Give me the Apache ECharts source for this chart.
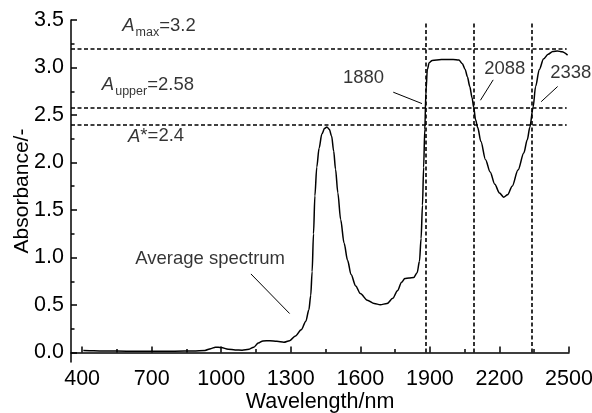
<!DOCTYPE html>
<html>
<head>
<meta charset="utf-8">
<script src="https://cdn.jsdelivr.net/npm/echarts@6/dist/echarts.min.js"></script>
<style>
  html, body { margin: 0; padding: 0; background: #fff; }
  #chart { width: 592px; height: 413px; }
</style>
</head>
<body>
<div id="chart"></div>
<script>
// Average NIR spectrum (wavelength in nm, absorbance)
const wavelength = [
  405, 450, 500, 600, 700, 800, 880, 930, 955, 975, 1000, 1030, 1060, 1090, 1120,
  1140, 1160, 1180, 1210, 1240, 1270, 1295, 1320, 1345, 1365, 1378, 1386, 1392, 1398,
  1404, 1412, 1422, 1434, 1446, 1456, 1466, 1476, 1485, 1493, 1503, 1515, 1530, 1545,
  1560, 1580, 1600, 1630, 1660, 1686, 1715, 1740, 1760, 1778, 1792, 1810, 1830, 1845,
  1855, 1862, 1868, 1873, 1878, 1883, 1889, 1897, 1910, 1950, 2000, 2025, 2040, 2052,
  2062, 2072, 2082, 2089, 2097, 2106, 2120, 2140, 2160, 2180, 2200, 2218, 2235, 2255,
  2280, 2305, 2320, 2331, 2345, 2356, 2372, 2390, 2410, 2430, 2450, 2470, 2494
];
const absorbance = [
  0.020, 0.018, 0.016, 0.013, 0.013, 0.014, 0.016, 0.022, 0.040, 0.056, 0.052, 0.035, 0.026, 0.025, 0.035,
  0.055, 0.100, 0.122, 0.125, 0.118, 0.108, 0.125, 0.175, 0.240, 0.330, 0.450, 0.600, 0.850, 1.250,
  1.650, 1.950, 2.150, 2.300, 2.360, 2.375, 2.350, 2.280, 2.120, 1.930, 1.680, 1.400, 1.150, 0.970,
  0.820, 0.700, 0.620, 0.550, 0.515, 0.503, 0.515, 0.570, 0.650, 0.740, 0.780, 0.785, 0.790, 0.840,
  0.960, 1.200, 1.550, 1.950, 2.350, 2.750, 2.980, 3.050, 3.075, 3.085, 3.085, 3.078, 3.040, 2.980,
  2.900, 2.800, 2.680, 2.580, 2.450, 2.370, 2.220, 2.030, 1.900, 1.770, 1.680, 1.635, 1.660, 1.750,
  1.920, 2.100, 2.240, 2.370, 2.580, 2.800, 2.980, 3.090, 3.140, 3.168, 3.175, 3.165, 3.130
];

// Threshold absorbances: A_max, A_upper, A*
const thresholds = [3.2, 2.58, 2.4];
// Wavelengths where the spectrum crosses A_upper
const crossings = [1880, 2088, 2338];

// Axis tick values
const xMajorTicks = [400, 700, 1000, 1300, 1600, 1900, 2200, 2500];
const xMinorTicks = [550, 850, 1150, 1450, 1750, 2050, 2350];
const yMajorTicks = [0, 0.5, 1.0, 1.5, 2.0, 2.5, 3.0, 3.5];
const yMinorTicks = [0.25, 0.75, 1.25, 1.75, 2.25, 2.75, 3.25];

const X_MIN = 352, X_MAX = 2500, Y_MIN = -0.1, Y_MAX = 3.5;
const FONT = '"Liberation Sans", Arial, sans-serif';
const BLACK = '#000';

const chart = echarts.init(document.getElementById('chart'), null, { renderer: 'canvas' });

const axisLineStyle = { lineStyle: { color: BLACK, width: 1.5 } };

const textRich = {
  i: { fontStyle: 'italic', fontSize: 18.5, fontFamily: FONT, color: BLACK },
  sub: { fontSize: 12.5, fontFamily: FONT, color: BLACK, padding: [12, 0, 0, 1] },
  n: { fontSize: 18.5, fontFamily: FONT, color: BLACK }
};

const option = {
  animation: false,
  backgroundColor: '#fff',
  grid: { left: 71, right: 23, top: 20, bottom: 51, outerBoundsMode: 'none', containLabel: false },
  xAxis: [
    {
      type: 'value', min: X_MIN, max: X_MAX,
      name: 'Wavelength/nm', nameLocation: 'middle', nameGap: 29, nameMoveOverlap: false,
      nameTextStyle: { fontSize: 21.5, fontFamily: FONT, color: BLACK },
      axisLine: axisLineStyle,
      axisTick: { inside: true, length: 6, customValues: xMajorTicks, lineStyle: { color: BLACK, width: 1.5 } },
      axisLabel: { customValues: xMajorTicks, margin: 6, fontSize: 21.5, fontFamily: FONT, color: BLACK,
                   formatter: v => String(v) },
      splitLine: { show: false }
    },
    {
      type: 'value', min: X_MIN, max: X_MAX, position: 'bottom',
      axisLine: { show: false },
      axisTick: { inside: true, length: 3.5, customValues: xMinorTicks, lineStyle: { color: BLACK, width: 1.5 } },
      axisLabel: { show: false },
      splitLine: { show: false }
    }
  ],
  yAxis: [
    {
      type: 'value', min: Y_MIN, max: Y_MAX,
      name: 'Absorbance/-', nameLocation: 'middle', nameGap: 38, nameMoveOverlap: false,
      nameTextStyle: { fontSize: 21, fontFamily: FONT, color: BLACK },
      axisLine: axisLineStyle,
      axisTick: { inside: true, length: 6, customValues: yMajorTicks, lineStyle: { color: BLACK, width: 1.5 } },
      axisLabel: { customValues: yMajorTicks, margin: 7, fontSize: 21.5, fontFamily: FONT, color: BLACK,
                   formatter: v => v.toFixed(1) },
      splitLine: { show: false }
    },
    {
      type: 'value', min: Y_MIN, max: Y_MAX, position: 'left',
      axisLine: { show: false },
      axisTick: { inside: true, length: 3.5, customValues: yMinorTicks, lineStyle: { color: BLACK, width: 1.5 } },
      axisLabel: { show: false },
      splitLine: { show: false }
    }
  ],
  series: [
    {
      name: 'Average spectrum',
      type: 'line',
      data: wavelength.map((w, i) => [w, absorbance[i]]),
      showSymbol: false,
      smooth: 0.3,
      smoothMonotone: 'x',
      lineStyle: { color: BLACK, width: 1.5 },
      silent: true,
      markLine: {
        silent: true,
        symbol: 'none',
        label: { show: false },
        lineStyle: { color: BLACK, width: 1.6, type: [4, 2.5] },
        data: [
          ...thresholds.map(v => [{ coord: [X_MIN, v] }, { coord: [2490, v] }]),
          ...crossings.map(w => [{ coord: [w, 0] }, { coord: [w, 3.47] }])
        ]
      }
    },
    {
      // pointer arrows
      type: 'line',
      data: [],
      silent: true,
      markLine: {
        silent: true,
        symbol: ['none', 'arrow'],
        symbolSize: [0, 10],
        label: { show: false },
        lineStyle: { color: BLACK, width: 1, type: 'solid' },
        data: [
          [{ coord: [1742, 2.74] }, { coord: [1866, 2.62] }],
          [{ coord: [2173, 2.87] }, { coord: [2118, 2.655] }],
          [{ coord: [2451, 2.80] }, { coord: [2380, 2.64] }],
          [{ coord: [1128, 0.827] }, { coord: [1295, 0.41] }]
        ]
      }
    },
    {
      // text annotations
      type: 'scatter',
      symbolSize: 0,
      silent: true,
      clip: false,
      label: {
        show: true, position: 'inside', align: 'left', verticalAlign: 'middle',
        fontSize: 18.5, fontFamily: FONT, color: BLACK,
        formatter: p => p.data.text, rich: textRich
      },
      data: [
        { value: [573, 3.436], text: '{i|A}{sub|max}{n|=3.2}' },
        { value: [485, 2.813], text: '{i|A}{sub|upper}{n|=2.58}' },
        { value: [598, 2.275], text: '{i|A}{n|*=2.4}' },
        { value: [1525, 2.886], text: '{n|1880}' },
        { value: [2134, 2.99], text: '{n|2088}' },
        { value: [2419, 2.94], text: '{n|2338}' },
        { value: [629, 0.99], text: '{n|Average spectrum}' }
      ]
    }
  ]
};

chart.setOption(option);
</script>
</body>
</html>
